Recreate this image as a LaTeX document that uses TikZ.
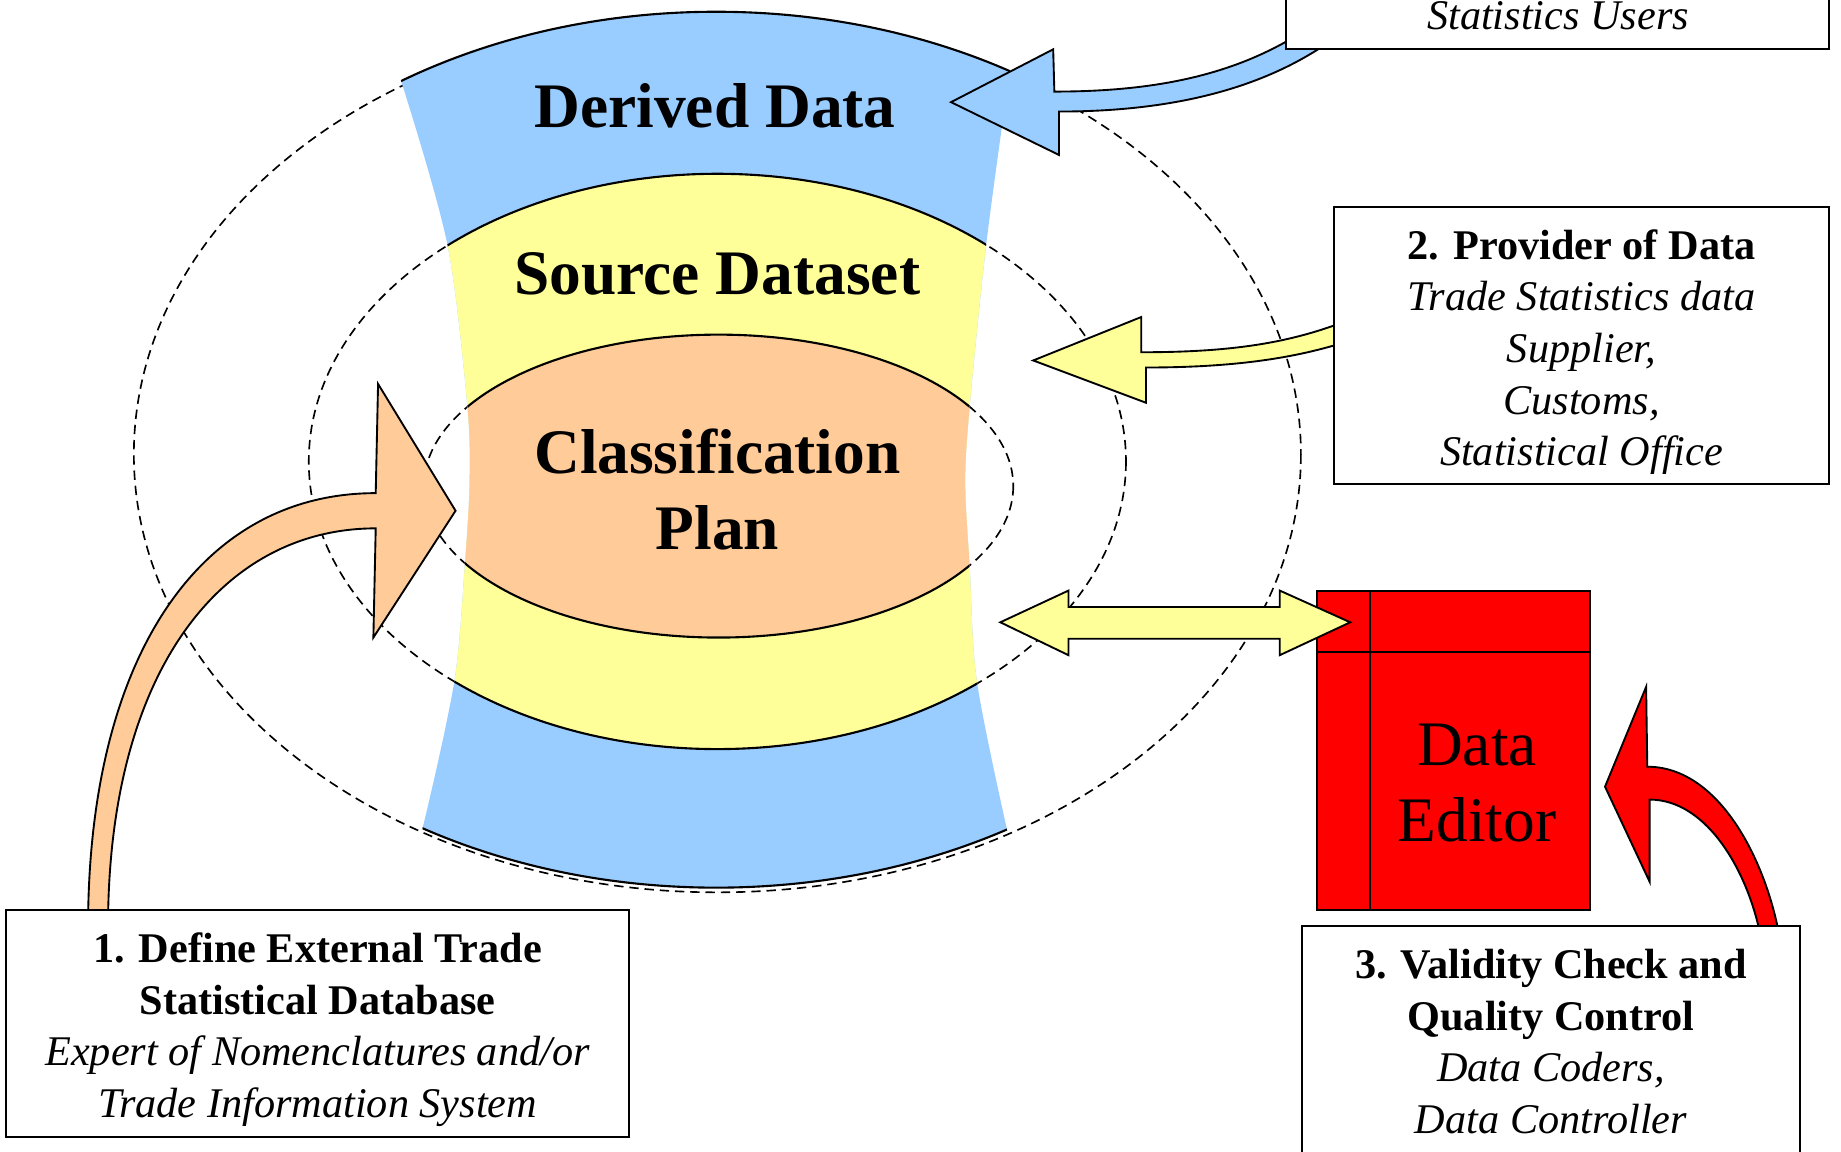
\documentclass[tikz,border=0pt]{standalone}
\usepackage{fontspec}
\setmainfont{Liberation Serif}
\definecolor{blu}{HTML}{99CCFF}
\definecolor{yel}{HTML}{FFFF99}
\definecolor{ora}{HTML}{FFCC99}
\definecolor{redd}{HTML}{FF0000}
\begin{document}
\begin{tikzpicture}[x=0.5pt,y=-0.5pt,
  dsh/.style={dash pattern=on 4pt off 2.5pt, line width=0.7pt},
  rim/.style={line width=0.9pt},
  barrow/.style={draw=black, line width=0.8pt, line join=miter},
  box/.style={draw=black, fill=white, line width=0.9pt, inner sep=0pt},
  big/.style={font=\fontsize{27}{32.5}\selectfont\bfseries, align=center, inner sep=0pt},
  edtxt/.style={font=\fontsize{27}{32.5}\selectfont, align=center, inner sep=0pt},
  boxtxt/.style={font=\fontsize{18}{22}\selectfont, align=center, inner sep=0pt},
]
\useasboundingbox (0,0) rectangle (1568,981);
\begin{scope}
\clip (0,0) rectangle (1568,981);
% dashed ellipses
\draw[dsh] (611,387) ellipse [x radius=497, y radius=373];
\draw[dsh] (611,393) ellipse [x radius=348, y radius=245];
\draw[dsh] (612,414) ellipse [x radius=251, y radius=129];
% column band
\begin{scope}
\clip plot[smooth] coordinates {(315,0) (341,67) (381,208) (398,345) (400,410) (396,480) (387,580) (360,705) (339,775)}
  -- plot[smooth] coordinates {(876,775) (858,708) (832,580) (826,485) (822,410) (826,345) (840,208) (860,61) (870,0)} -- cycle;
\filldraw[fill=blu, rim] (610,383) ellipse [x radius=497, y radius=373];
\filldraw[fill=yel, rim] (611,393) ellipse [x radius=348, y radius=245];
\filldraw[fill=ora, rim] (612,414) ellipse [x radius=251, y radius=129];
\end{scope}
% orange arrow
\filldraw[fill=ora, barrow] (75,790) .. controls (75,560) and (170,420) .. (320,420) -- (322,327) -- (388,435) -- (318,543) -- (320,450) .. controls (190,450) and (92,570) .. (92,790) -- cycle;
% blue arrow
\filldraw[fill=blu, barrow] (898,78) .. controls (990,78) and (1060,62) .. (1120,20) -- (1140,30) .. controls (1080,75) and (1000,95) .. (902,95) -- (902,132) -- (810,87) -- (897,42) -- cycle;
% yellow arrow
\filldraw[fill=yel, barrow] (972,300) .. controls (1050,300) and (1100,292) .. (1150,272) -- (1150,290) .. controls (1110,303) and (1060,313) .. (976,313) -- (976,343) -- (880,307) -- (972,270) -- cycle;
% data editor
\node[draw=black, fill=redd, line width=0.8pt, minimum width=116pt, minimum height=136pt, inner sep=0pt] (ed) at (1238,639) {};
\draw[line width=0.8pt] ([xshift=23pt]ed.north west) -- ([xshift=23pt]ed.south west);
\draw[line width=0.8pt] ([yshift=-26.5pt]ed.north west) -- ([yshift=-26.5pt]ed.north east);
\node[edtxt] (edt) at (1258,667) {Data\\Editor};
% double arrow
\filldraw[fill=yel, barrow] (852,530) -- (910,503) -- (910,517) -- (1090,517) -- (1090,503) -- (1150,530) -- (1090,558) -- (1090,544) -- (910,544) -- (910,558) -- cycle;
% red arrow
\filldraw[fill=redd, barrow] (1403,653) .. controls (1465,653) and (1505,735) .. (1516,800) -- (1500,800) .. controls (1490,745) and (1455,681) .. (1405,681) -- (1405,751) -- (1367,670) -- (1402,585) -- cycle;
% boxes
\node[box, minimum width=265.5pt, minimum height=96.5pt] (b1) at (270.5,871.5) {};
\node[box, minimum width=211pt, minimum height=118pt] (b2) at (1347,294) {};
\node[box, minimum width=212pt, minimum height=110pt] (b3) at (1321,899) {};
\node[box, minimum width=231.5pt, minimum height=61pt] (b4) at (1326.5,-19) {};
% texts
\node[big] (dd) at (609,90) {Derived Data};
\node[big] (sd) at (611,233) {Source Dataset};
\node[big] (cp) at (611,417) {Classification\\Plan};
\node[boxtxt] (t1) at (270.5,877) {\textbf{1. Define External Trade}\\\textbf{Statistical Database}\\\textit{Expert of Nomenclatures and/or}\\\textit{Trade Information System}};
\node[boxtxt] (t2) at (1347,300) {\textbf{2. Provider of Data}\\\textit{Trade Statistics data}\\\textit{Supplier,}\\\textit{Customs,}\\\textit{Statistical Office}};
\node[boxtxt] (t3) at (1321,887) {\textbf{3. Validity Check and}\\\textbf{Quality Control}\\\textit{Data Coders,}\\\textit{Data Controller}};
\node[boxtxt] (t4) at (1327,13) {\textit{Statistics Users}};
\end{scope}
\end{tikzpicture}
\end{document}
